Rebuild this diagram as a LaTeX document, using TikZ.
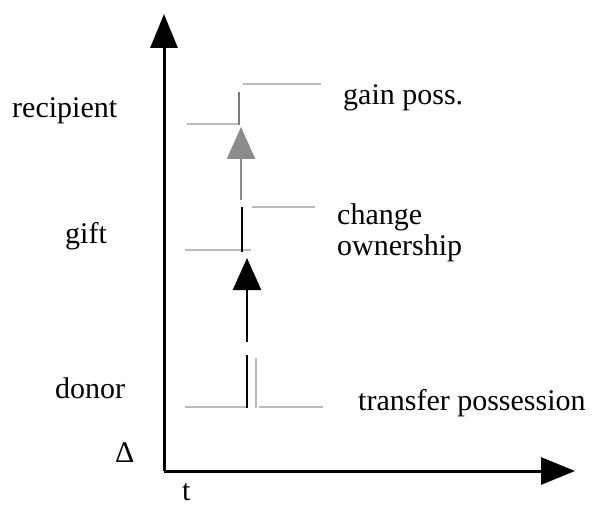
\documentclass[tikz,border=0pt]{standalone}
\usepackage{fontspec}
\setmainfont{Liberation Serif}
\usepackage{tikz}
\usetikzlibrary{arrows.meta}
\definecolor{lvlgray}{HTML}{BBBBBB}
\definecolor{evgray}{HTML}{8C8C8C}
\definecolor{markgray}{HTML}{7A7A7A}

\begin{document}
\begin{tikzpicture}[
  x=1pt, y=-1pt,
  axis/.style={line width=3pt, -{Triangle[length=34pt, width=27pt]}},
  level/.style={line width=2pt, lvlgray},
  event/.style={line width=2.5pt, -{Triangle[length=32pt, width=28pt]}},
  lbl/.style={font=\fontsize{30}{31}\selectfont, inner sep=0pt, anchor=base west, align=left}
]
\useasboundingbox (0,0) rectangle (604,505);

% Axes
\coordinate (o) at (164,471);
\coordinate (ytop) at (164,14);
\coordinate (xend) at (575,471);
\draw[axis] (o) -- (ytop);
\draw[axis] (o) -- (xend);

% Roles on the vertical axis
\node[lbl] (recipient) at (12,118) {recipient};
\node[lbl] (gift) at (65,243) {gift};
\node[lbl] (donor) at (55,398) {donor};
\node[lbl] (delta) at (115,462) {Δ};
\node[lbl] (t) at (182,500) {t};

% Event names (base is on the last line)
\node[lbl] (gain) at (343,105) {gain poss.};
\node[lbl] (change) at (337,255) {change\\ownership};
\node[lbl] (transfer) at (358,410) {transfer possession};

% Level lines
\draw[level] (243,84) -- (321,84);
\draw[level] (187,124) -- (239,124);
\draw[level] (252,207) -- (315,207);
\draw[level] (185,250) -- (251,250);
\draw[level] (185,407) -- (247,407);
\draw[level] (259,407) -- (323,407);
\draw[level] (256,358) -- (256,408);

% Transitions
\coordinate (g0) at (241,200);
\coordinate (g1) at (241,127);
\coordinate (b0) at (247,342);
\coordinate (b1) at (247,258);
\draw[line width=2.5pt, markgray] (239,92) -- (239,125);
\draw[event, evgray] (g0) -- (g1);
\draw[line width=2.5pt] (242,207) -- (242,252);
\draw[event] (b0) -- (b1);
\draw[line width=2.5pt] (247,355) -- (247,408);

\end{tikzpicture}
\end{document}
